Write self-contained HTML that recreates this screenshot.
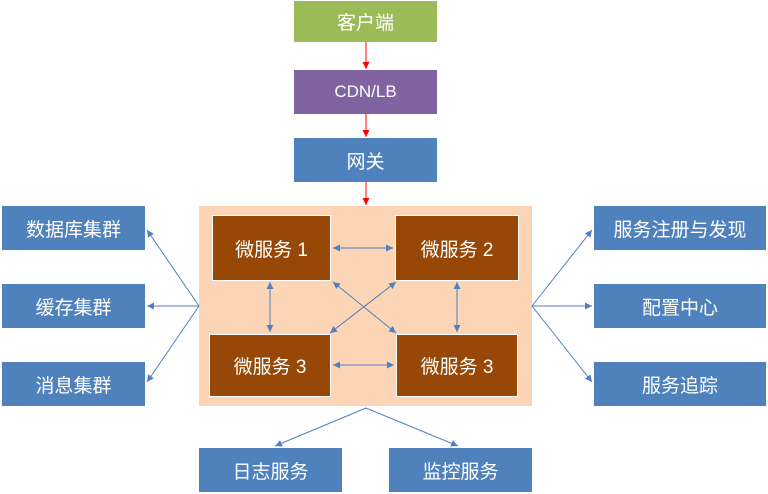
<!DOCTYPE html>
<html><head><meta charset="utf-8"><style>
body{margin:0;width:768px;height:494px;background:#fff;position:relative;overflow:hidden;font-family:"Liberation Sans","Noto Sans CJK SC",sans-serif}
.b{position:absolute;display:flex;align-items:center;justify-content:center;color:#fff;font-size:19px;box-sizing:border-box}
.bl{background:#4f81bd}
.m{background:#974706;border:1px solid #fff}
svg{position:absolute;left:0;top:0}
</style></head><body>
<div class="b" style="left:294px;top:1px;width:143px;height:41px;background:#9bbb59">客户端</div>
<div class="b" style="left:294px;top:70px;width:143px;height:44px;background:#8064a2;font-size:17px">CDN/LB</div>
<div class="b bl" style="left:294px;top:138px;width:143px;height:44px">网关</div>
<div style="position:absolute;left:199px;top:206px;width:333px;height:200px;background:#fbd5b5"></div>
<div class="b m" style="left:212px;top:215px;width:119px;height:66px">微服务 1</div>
<div class="b m" style="left:395px;top:215px;width:124px;height:66px">微服务 2</div>
<div class="b m" style="left:209px;top:334px;width:122px;height:63px">微服务 3</div>
<div class="b m" style="left:396px;top:334px;width:122px;height:63px">微服务 3</div>
<div class="b bl" style="left:2px;top:206px;width:143px;height:44px">数据库集群</div>
<div class="b bl" style="left:2px;top:284px;width:143px;height:44px">缓存集群</div>
<div class="b bl" style="left:2px;top:362px;width:143px;height:44px">消息集群</div>
<div class="b bl" style="left:594px;top:206px;width:172px;height:44px">服务注册与发现</div>
<div class="b bl" style="left:594px;top:284px;width:172px;height:44px">配置中心</div>
<div class="b bl" style="left:594px;top:362px;width:172px;height:44px">服务追踪</div>
<div class="b bl" style="left:199px;top:448px;width:143px;height:44px">日志服务</div>
<div class="b bl" style="left:389px;top:448px;width:143px;height:44px">监控服务</div>
<svg width="768" height="494">
<defs>
<marker id="r" viewBox="0 0 10 10" refX="10" refY="5" markerWidth="7" markerHeight="7" orient="auto-start-reverse"><path d="M0,0L10,5L0,10z" fill="#f00"/></marker>
<marker id="a" viewBox="0 0 10 10" refX="10" refY="5" markerWidth="7" markerHeight="7" orient="auto-start-reverse"><path d="M0,0L10,5L0,10z" fill="#4f81bd"/></marker>
</defs>
<g stroke="#f00" stroke-width="1" marker-end="url(#r)">
<line x1="366" y1="42" x2="366" y2="69"/>
<line x1="366" y1="114" x2="366" y2="137"/>
<line x1="366" y1="182" x2="366" y2="205"/>
</g>
<g stroke="#4f81bd" stroke-width="1" fill="none" marker-end="url(#a)">
<line x1="333" y1="248" x2="393" y2="248" marker-start="url(#a)"/>
<line x1="333" y1="365" x2="394" y2="365" marker-start="url(#a)"/>
<line x1="270" y1="282" x2="270" y2="332" marker-start="url(#a)"/>
<line x1="457" y1="282" x2="457" y2="332" marker-start="url(#a)"/>
<line x1="333" y1="282" x2="396" y2="333" marker-start="url(#a)"/>
<line x1="396" y1="282" x2="330" y2="333" marker-start="url(#a)"/>
<line x1="199" y1="306" x2="147" y2="230"/>
<line x1="199" y1="306" x2="147" y2="306"/>
<line x1="199" y1="306" x2="147" y2="382"/>
<line x1="532" y1="306" x2="592" y2="230"/>
<line x1="532" y1="306" x2="592" y2="306"/>
<line x1="532" y1="306" x2="592" y2="382"/>
<line x1="366" y1="408" x2="275" y2="446"/>
<line x1="366" y1="408" x2="458" y2="446"/>
</g>
</svg>
</body></html>
